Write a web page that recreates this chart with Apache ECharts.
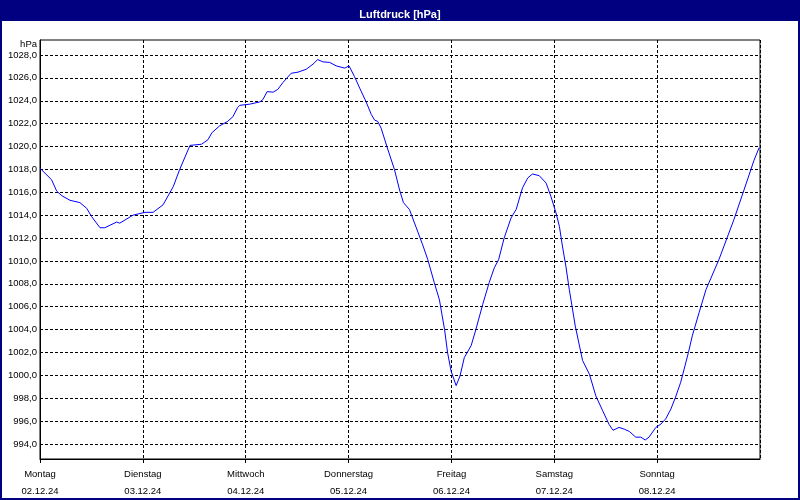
<!DOCTYPE html>
<html>
<head>
<meta charset="utf-8">
<script src="https://cdn.jsdelivr.net/npm/echarts@6/dist/echarts.min.js"></script>
<style>html,body{margin:0;padding:0;background:#fff}#c{width:800px;height:500px}</style>
</head>
<body>
<div id="c"></div>
<script>
const chartTitle = 'Luftdruck [hPa]';
const unitLabel = 'hPa';
const dayNames = ['Montag', 'Dienstag', 'Mittwoch', 'Donnerstag', 'Freitag', 'Samstag', 'Sonntag'];
const dayDates = ['02.12.24', '03.12.24', '04.12.24', '05.12.24', '06.12.24', '07.12.24', '08.12.24'];
const yTicks = [994, 996, 998, 1000, 1002, 1004, 1006, 1008, 1010, 1012, 1014, 1016, 1018, 1020, 1022, 1024, 1026, 1028];
// hours since Monday 02.12.24 00:00
const hours = [0, 2.7, 3.9, 5.1, 7.0, 9.3, 10.9, 12.0, 14.0, 15.1, 17.9, 18.6, 21.7, 24.5, 26.4, 28.7, 31.1, 32.6, 35.0, 37.7, 39.2,
  40.1, 41.9, 43.8, 45.0, 46.1, 46.6, 48.9, 51.3, 52.0, 53.0, 54.4, 55.5, 56.7, 58.6, 60.2, 62.1, 63.7, 64.8, 66.0, 67.6, 69.1, 71.1, 72.1,
  73.4, 74.6, 76.1, 77.3, 78.1, 78.8, 79.6, 80.4, 81.2, 82.7, 83.9, 84.8, 86.2, 87.8, 89.3, 90.5, 92.0, 93.2, 94.4, 95.1, 95.9, 97.1,
  98.0, 99.0, 100.6, 101.7, 103.3, 104.8, 106.0, 107.0, 108.3, 109.9, 111.1, 112.6, 113.8, 114.9, 116.5, 118.1, 119.2, 120.4, 121.2,
  121.9, 122.7, 123.5, 124.9, 126.6, 128.2, 129.7, 131.3, 132.8, 133.7, 135.1, 136.3, 137.5, 139.0, 140.2, 141.2, 142.1, 143.7, 144.9,
  146.0, 147.2, 148.3, 149.5, 150.3, 151.3, 152.2, 153.8, 155.4, 158.4, 161.9, 164.9, 166.6, 167.8];
const pressure = [1018.1, 1017.1, 1016.1, 1015.7, 1015.3, 1015.1, 1014.6, 1013.9, 1012.9, 1012.9, 1013.4, 1013.3, 1014.0, 1014.25, 1014.25, 1014.9, 1016.5, 1018.0, 1020.1, 1020.2, 1020.6,
  1021.2, 1021.8, 1022.2, 1022.6, 1023.4, 1023.6, 1023.7, 1023.9, 1024.1, 1024.8, 1024.75, 1025.0, 1025.6, 1026.4, 1026.5, 1026.75, 1027.2, 1027.6, 1027.4, 1027.35, 1027.05, 1026.85, 1027.05,
  1026.1, 1025.1, 1023.9, 1022.8, 1022.3, 1022.2, 1021.6, 1020.65, 1019.7, 1018.0, 1016.2, 1015.1, 1014.5, 1012.9, 1011.4, 1010.1, 1008.1, 1006.6, 1004.0, 1002.0, 1000.4, 999.1,
  999.95, 1001.55, 1002.6, 1004.0, 1006.2, 1008.1, 1009.4, 1010.1, 1012.0, 1013.75, 1014.5, 1016.4, 1017.25, 1017.6, 1017.45, 1016.8, 1015.65, 1014.2, 1013.0,
  1011.3, 1009.55, 1007.5, 1004.3, 1001.3, 1000.1, 998.2, 996.9, 995.7, 995.2, 995.45, 995.3, 995.1, 994.6, 994.6, 994.35, 994.6, 995.45, 995.75,
  996.2, 997.05, 998.1, 999.4, 1000.55, 1002.0, 1003.45, 1005.5, 1007.5, 1010.1, 1013.6, 1016.9, 1018.8, 1019.9];

const seriesData = hours.map((h, i) => [h, pressure[i]]);
const font = 'Liberation Sans';

const chart = echarts.init(document.getElementById('c'), null, {renderer: 'canvas'});
chart.setOption({
  animation: false,
  backgroundColor: '#ffffff',
  title: {
    text: chartTitle,
    left: 'center',
    top: 4,
    textStyle: {color: '#ffffff', fontFamily: font, fontSize: 11, fontWeight: 'bold'}
  },
  graphic: [
    {type: 'rect', z: -10, shape: {x: 0, y: 0, width: 800, height: 21}, style: {fill: '#000080'}},
    {type: 'rect', z: -10, shape: {x: 1, y: 1, width: 798, height: 498}, style: {fill: 'none', stroke: '#000080', lineWidth: 2}}
  ],
  grid: {left: 40, top: 40, width: 720, height: 420, show: true, borderColor: '#000', borderWidth: 1, backgroundColor: 'transparent'},
  xAxis: {
    type: 'value', min: 0, max: 168, interval: 24,
    axisLine: {lineStyle: {color: '#000', width: 1}},
    axisTick: {show: true, length: 4, lineStyle: {color: '#000'}},
    splitLine: {show: true, lineStyle: {color: '#000', type: [3, 2], width: 1}},
    axisLabel: {
      color: '#000', fontFamily: font, fontSize: 9.5, margin: 7, lineHeight: 17,
      showMaxLabel: false,
      formatter: v => { const i = Math.round(v / 24); return i < 7 ? dayNames[i] + '\n' + dayDates[i] : ''; }
    }
  },
  yAxis: {
    type: 'value', min: 992.69, max: 1029.31,
    name: unitLabel, nameLocation: 'end', nameGap: -4,
    nameTextStyle: {color: '#000', fontFamily: font, fontSize: 9.5, align: 'right', verticalAlign: 'middle', padding: [0, 3, 0, 0]},
    axisLine: {show: true, lineStyle: {color: '#000', width: 1}},
    axisTick: {show: false, customValues: yTicks},
    splitLine: {show: true, lineStyle: {color: '#000', type: [3, 2], width: 1}},
    axisLabel: {
      color: '#000', fontFamily: font, fontSize: 9.5, margin: 3,
      customValues: yTicks,
      formatter: v => v.toFixed(1).replace('.', ',')
    }
  },
  series: [{
    type: 'line', data: seriesData, showSymbol: false, smooth: false,
    lineStyle: {color: '#0000ff', width: 1}, itemStyle: {color: '#0000ff'}
  }]
});
</script>
</body>
</html>
